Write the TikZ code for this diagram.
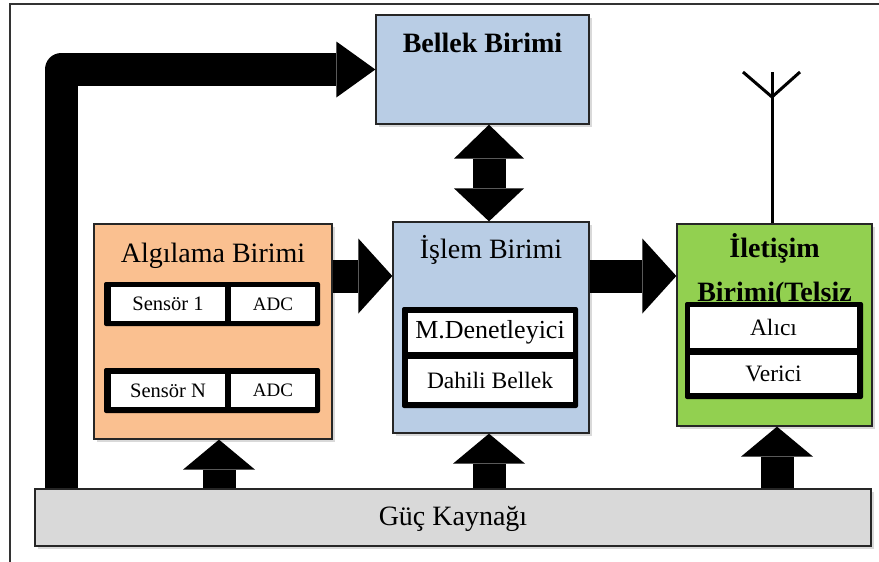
\documentclass[tikz,border=0pt]{standalone}
\usepackage{fontspec}
\setmainfont{Liberation Serif}
\usetikzlibrary{arrows.meta,calc,shadows}
\definecolor{memblue}{HTML}{B9CDE5}
\definecolor{senseorange}{HTML}{FAC090}
\definecolor{commgreen}{HTML}{92D050}
\definecolor{powergray}{HTML}{D9D9D9}
\begin{document}
\begin{tikzpicture}[x=1pt,y=-1pt,
  unitbox/.style={draw=black!85, line width=1.3pt, inner sep=0pt,
    drop shadow={shadow xshift=2.5pt,shadow yshift=-2.5pt,opacity=0.3}},
  holder/.style={fill=black, rounded corners=2pt, inner sep=0pt},
  cell/.style={fill=white, inner sep=0pt},
  titletext/.style={font=\fontsize{28}{38}\selectfont, inner sep=0pt, anchor=base},
  boldtitle/.style={font=\fontsize{28}{38}\selectfont\bfseries, inner sep=0pt, anchor=base},
  smalltext/.style={font=\fontsize{20.5}{22}\selectfont},
  adctext/.style={font=\fontsize{19}{22}\selectfont},
  midtext/.style={font=\fontsize{23.5}{26}\selectfont},
  fatarrow/.style={draw=black, line width=33pt},
  upstyle/.style={fatarrow, -{Triangle[width=72pt,length=30pt,line width=0pt]}},
  rightstyle/.style={fatarrow, -{Triangle[width=75pt,length=34pt,line width=0pt]}},
  bothstyle/.style={fatarrow, {Triangle[width=70pt,length=34pt,line width=0pt]}-{Triangle[width=70pt,length=33pt,line width=0pt]}},
  lstyle/.style={fatarrow, line join=round, -{Triangle[width=56pt,length=39pt,line width=0pt]}},
  antenna/.style={draw=black, line width=3pt}
]
\useasboundingbox (0,0) rectangle (879,562);
\draw[line width=1.5pt, black!80] (10,562) -- (10,4) -- (879,4);

% helper coordinates
\coordinate (xL) at (61,0);
\coordinate (xA) at (219,0);
\coordinate (xB) at (489,0);
\coordinate (xC) at (777,0);
\coordinate (yH) at (0,276);
\coordinate (antj) at (772,97);
\coordinate (antl) at (743,72);
\coordinate (antr) at (800,72);
\coordinate (antt) at (772,72);

% boxes
\node[unitbox, fill=powergray, minimum width=836pt, minimum height=57pt] (gk) at (453,517.5) {};
\node[unitbox, fill=memblue, minimum width=213pt, minimum height=109pt] (bellek) at (482.5,69.5) {};
\node[unitbox, fill=senseorange, minimum width=238pt, minimum height=215pt] (alg) at (213,331.5) {};
\node[unitbox, fill=memblue, minimum width=196pt, minimum height=211pt] (isl) at (491,327.5) {};
\node[unitbox, fill=commgreen, minimum width=195pt, minimum height=202pt] (ilet) at (774.5,325) {};

% arrows
\draw[lstyle] (xL |- gk.north) |- (bellek.west);
\draw[upstyle] (xA |- gk.north) -- (xA |- alg.south);
\draw[upstyle] (xB |- gk.north) -- (xB |- isl.south);
\draw[upstyle] (xC |- gk.north) -- (xC |- ilet.south);
\draw[rightstyle] (alg.east |- yH) -- (isl.west |- yH);
\draw[rightstyle] (isl.east |- yH) -- (ilet.west |- yH);
\draw[bothstyle] (xB |- bellek.south) -- (xB |- isl.north);

% antenna
\draw[antenna] (antj |- ilet.north) -- (antt);
\draw[antenna] (antl) -- (antj) -- (antr);

% titles
\node[boldtitle] (tbellek) at (482.5,52) {Bellek Birimi};
\node[titletext] (talg) at (213,262) {Algılama Birimi};
\node[titletext] (tisl) at (491,258) {İşlem Birimi};
\node[boldtitle, align=center, font=\fontsize{28}{44}\selectfont\bfseries] (tilet) at (774.5,301) {İletişim\\Birimi(Telsiz};
\node[titletext] (tgk) at (453,525) {Güç Kaynağı};

% sensing rows
\node[holder, minimum width=216pt, minimum height=44pt] (row1) at (212,304) {};
\node[cell, smalltext, minimum width=114pt, minimum height=34pt] (s1) at (168,304) {Sensör 1};
\node[cell, adctext, minimum width=84pt, minimum height=34pt] (adc1) at (273,304) {ADC};
\node[holder, minimum width=216pt, minimum height=45pt] (row2) at (212,390.5) {};
\node[cell, smalltext, minimum width=114pt, minimum height=33pt] (sn) at (168,390.5) {Sensör N};
\node[cell, adctext, minimum width=84pt, minimum height=33pt] (adc2) at (273,390.5) {ADC};

% processing inner
\node[holder, minimum width=176pt, minimum height=101pt] (procin) at (490,357.5) {};
\node[cell, font=\fontsize{26}{28}\selectfont, minimum width=165pt, minimum height=39pt] (mcu) at (490,332) {M.Denetleyici};
\node[cell, midtext, minimum width=165pt, minimum height=43pt] (dmem) at (490,380.5) {Dahili Bellek};

% comm inner
\node[holder, minimum width=178pt, minimum height=97pt] (commin) at (774,350.5) {};
\node[cell, midtext, minimum width=167pt, minimum height=41pt] (rx) at (773.5,327.5) {Alıcı};
\node[cell, midtext, minimum width=167pt, minimum height=38pt] (tx) at (773.5,374) {Verici};
\end{tikzpicture}
\end{document}
